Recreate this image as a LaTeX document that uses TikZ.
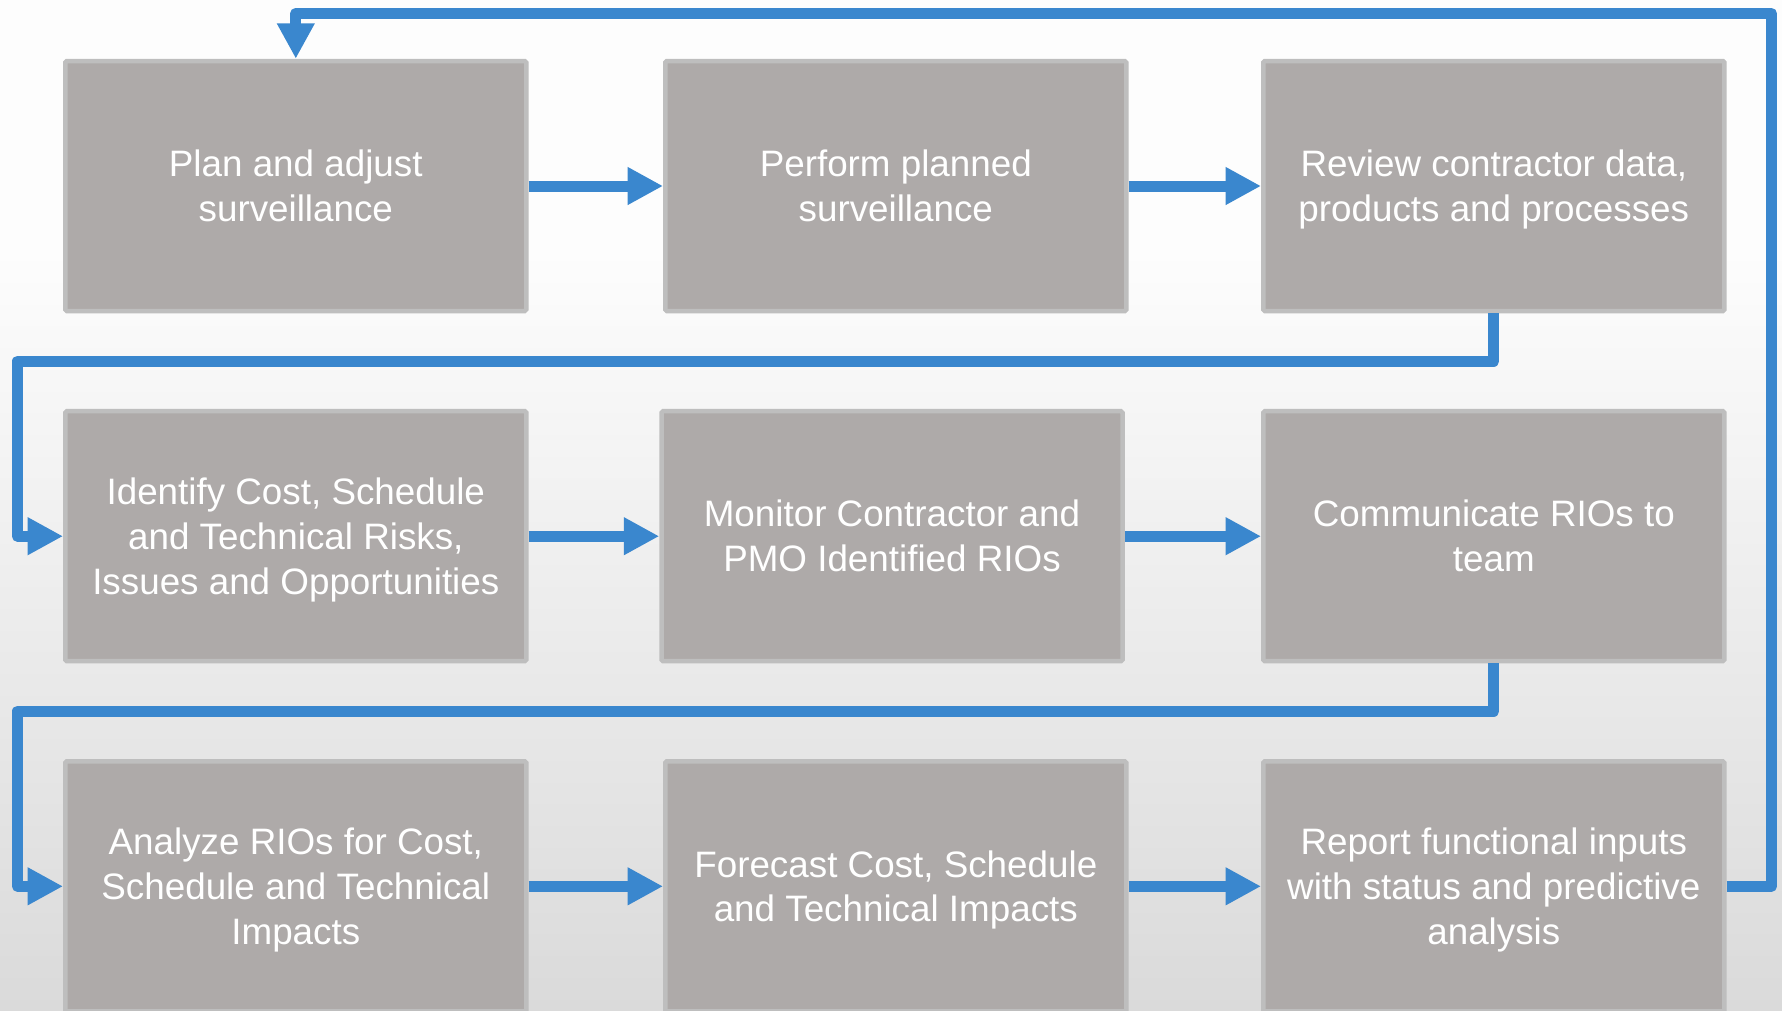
\documentclass[tikz,border=0pt]{standalone}
\usepackage{fontspec}
\setmainfont{Liberation Sans}
\usetikzlibrary{arrows.meta}
\definecolor{linec}{HTML}{3A87CE}
\definecolor{boxfill}{HTML}{AEAAA9}
\definecolor{boxline}{HTML}{BEBEBE}
\definecolor{bgtop}{HTML}{FDFDFD}
\definecolor{bgbot}{HTML}{DADADA}
\newcommand\tst{\rule{0pt}{0.936em}}
\newcommand\bst{\rule[-0.22em]{0pt}{0.22em}}
\begin{document}
\begin{tikzpicture}[x=1pt,y=-1pt,
  stepbox/.style={rectangle, draw=boxline, line width=4.5pt, fill=boxfill,
    rounded corners=1.5pt, minimum width=461pt, minimum height=250pt,
    inner sep=0pt, align=center, text=white,
    font=\fontsize{36.8pt}{44.8pt}\selectfont},
  conn/.style={draw=linec, line width=11pt, line join=round},
  arr/.style={conn, -{Triangle[length=35.5pt,width=35.5pt]}}]
\useasboundingbox (0,0) rectangle (1782,1010);
\fill[bgtop] (0,0) rectangle (1782,251);
\shade[top color=bgtop, bottom color=bgbot] (0,250) rectangle (1782,1010);

\node[stepbox] (b1) at (295.8,186) {\tst Plan and adjust\\surveillance\bst};
\node[stepbox] (b2) at (895.8,186) {\tst Perform planned\\surveillance\bst};
\node[stepbox] (b3) at (1493.8,186) {\tst Review contractor data,\\products and processes\bst};
\node[stepbox] (b4) at (295.8,536.2) {\tst Identify Cost, Schedule\\and Technical Risks,\\Issues and Opportunities\bst};
\node[stepbox] (b5) at (892,536.2) {\tst Monitor Contractor and\\PMO Identified RIOs\bst};
\node[stepbox] (b6) at (1493.8,536.2) {\tst Communicate RIOs to\\team\bst};
\node[stepbox] (b7) at (295.8,886.3) {\tst Analyze RIOs for Cost,\\Schedule and Technical\\Impacts\bst};
\node[stepbox] (b8) at (895.8,886.3) {\tst Forecast Cost, Schedule\\and Technical Impacts\bst};
\node[stepbox] (b9) at (1493.8,886.3) {\tst Report functional inputs\\with status and predictive\\analysis\bst};

\coordinate (tr) at (1771.5,13.5);
\coordinate (k1) at (17.5,361);
\coordinate (k2) at (17.5,711);

\draw[arr] (b1.east) -- (b2.west);
\draw[arr] (b2.east) -- (b3.west);
\draw[arr] (b4.east) -- (b5.west);
\draw[arr] (b5.east) -- (b6.west);
\draw[arr] (b7.east) -- (b8.west);
\draw[arr] (b8.east) -- (b9.west);
\draw[arr] (b3.south) |- (k1) |- (b4.west);
\draw[arr] (b6.south) |- (k2) |- (b7.west);
\draw[arr] (b9.east) -| (tr) -| (b1.north);
\end{tikzpicture}
\end{document}
